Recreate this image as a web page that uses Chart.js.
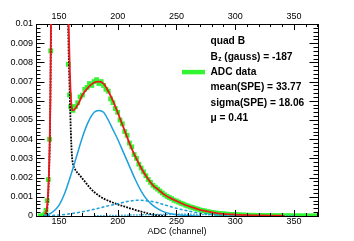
<!DOCTYPE html>
<html>
<head>
<meta charset="utf-8">
<script src="https://cdn.jsdelivr.net/npm/chart.js@4.4.1/dist/chart.umd.min.js"></script>
<style>
  html, body { margin: 0; padding: 0; background: #fff; }
</style>
</head>
<body>
<canvas id="myChart" width="354" height="241"></canvas>
<script>
// axis ticks
const xTicks = [150, 200, 250, 300, 350];
const yTickValues = [0, 0.001, 0.002, 0.003, 0.004, 0.005, 0.006, 0.007, 0.008, 0.009, 0.01];
const yTickLabels = ['0', '0.001', '0.002', '0.003', '0.004', '0.005', '0.006', '0.007', '0.008', '0.009', '0.01'];

// ADC data (normalised counts per channel)
const adcX = [134, 136, 137, 138, 139, 140, 141, 142, 143, 144, 146, 148, 150, 152, 154, 156, 157, 158, 159,
  160, 162, 164, 166, 168, 170, 172, 174, 176, 178, 180, 182, 184, 186, 188, 190, 192, 194, 196, 198,
  200, 202, 204, 206, 208, 210, 212, 214, 216, 218, 220, 222, 224, 226, 228, 230, 232, 234, 236, 238,
  240, 242, 244, 246, 248, 250, 252, 254, 256, 258, 260, 262, 264, 266, 268, 270, 272, 274, 276, 278,
  280, 282, 284, 286, 288, 290, 292, 294, 296, 298, 300, 302, 304, 306, 308, 310, 312, 314, 316, 318,
  320, 322, 324, 326, 328, 330, 332, 334, 336, 338, 340, 342, 344, 346, 348, 350, 352, 354, 356, 358,
  360, 362, 364, 366, 368, 370];
const adcY = [0, 0, 0.00003, 0.0001, 0.0003, 0.0008, 0.0019, 0.0040, 0.0086, 0.018, 0.035, 0.05, 0.055, 0.05, 0.04, 0.025, 0.016, 0.0079, 0.0063,
  0.0057, 0.0055, 0.0057, 0.0059, 0.0062, 0.0063, 0.0066, 0.0067, 0.0069, 0.0068, 0.0070, 0.0071, 0.0069, 0.0070, 0.0068, 0.0066, 0.0065, 0.0061, 0.0059, 0.0056,
  0.0054, 0.0050, 0.0048, 0.0044, 0.0042, 0.0038, 0.0036, 0.0032, 0.0030, 0.0027, 0.0025, 0.0023, 0.0021, 0.0019, 0.00175, 0.0016, 0.0015, 0.0014, 0.0013, 0.0012,
  0.0011, 0.00102, 0.00096, 0.0009, 0.00082, 0.00078, 0.00072, 0.00066, 0.00062, 0.00056, 0.00052, 0.00047, 0.00044, 0.00039, 0.00036, 0.00032, 0.00029, 0.00027, 0.00023, 0.00021,
  0.00019, 0.00017, 0.00015, 0.00014, 0.00012, 0.00011, 0.0001, 0.00009, 0.00008, 0.00008, 0.00007, 0.00006, 0.00006, 0.00005, 0.00005, 0.00004, 0.00004, 0.00003, 0.00004, 0.00003,
  0.00003, 0.00002, 0.00003, 0.00002, 0.00002, 0.00002, 0.00001, 0.00002, 0.00001, 0.00001, 0.00002, 0.00001, 0.00001, 0.00001, 0, 0.00001, 0, 0.00001, 0, 0,
  0.00001, 0, 0, 0, 0, 0];

// total fit
const fitX = [138, 139.5, 140.5, 141.3, 142, 142.7, 143.2, 143.8, 145, 150, 156, 157.2, 157.8, 158.6, 159.4, 160.2, 161, 162, 164, 167,
  170, 175, 180, 184, 188, 192, 196, 200, 205, 210, 215, 220, 225, 230, 235, 240, 245, 250, 255, 260,
  265, 270, 275, 280, 285, 290, 300, 310, 320, 330, 342];
const fitY = [0.0001, 0.0003, 0.0009, 0.0019, 0.0034, 0.006, 0.0098, 0.017, 0.03, 0.06, 0.03, 0.017, 0.0118, 0.0092, 0.0074, 0.0062, 0.0056, 0.0055, 0.0056, 0.0059,
  0.0063, 0.0067, 0.00695, 0.0070, 0.0069, 0.0065, 0.0060, 0.0054, 0.0046, 0.0038, 0.0031, 0.0025, 0.0020, 0.0016, 0.00135, 0.0011, 0.00093, 0.00078, 0.00064, 0.00052,
  0.00042, 0.00032, 0.00025, 0.00019, 0.00014, 0.00011, 0.00007, 0.00004, 0.00003, 0.00002, 0.00001];

// pedestal + tail
const pedX = [137, 138.5, 139.5, 140.5, 141.3, 142, 142.7, 143.2, 143.8, 145, 150, 156, 157.2, 157.8, 158.6, 159.4, 160.2, 161, 162, 164,
  168, 172, 176, 180, 185, 190, 195, 200, 206, 212, 220, 226, 232, 240];
const pedY = [0, 0.00005, 0.0002, 0.0007, 0.0017, 0.0032, 0.0058, 0.0094, 0.016, 0.03, 0.06, 0.03, 0.016, 0.0105, 0.0078, 0.006, 0.0043, 0.0032, 0.0027, 0.0024,
  0.0021, 0.0018, 0.0015, 0.00125, 0.00102, 0.00085, 0.00072, 0.0006, 0.00049, 0.00037, 0.00023, 0.00013, 0.00005, 0.00001];

// single photoelectron
const spe1X = [137, 140, 145, 150, 155, 160, 165, 170, 175, 180, 184, 188, 192, 196, 200, 205, 210, 215, 220, 225, 230, 235, 240, 245, 250, 260, 270];
const spe1Y = [0, 0.00005, 0.00022, 0.00055, 0.0012, 0.0021, 0.0031, 0.0041, 0.0049, 0.0054, 0.0055, 0.0054, 0.0050, 0.0045, 0.0040, 0.0033, 0.0026, 0.0019, 0.0013, 0.00085, 0.00055, 0.00034, 0.0002, 0.00012, 0.00007, 0.00002, 0];

// two photoelectrons
const spe2X = [140, 150, 160, 170, 180, 190, 200, 208, 216, 224, 232, 240, 250, 260, 270, 280, 290, 300, 315];
const spe2Y = [0.00001, 0.00005, 0.00012, 0.00022, 0.00035, 0.0005, 0.00064, 0.00075, 0.00082, 0.0008, 0.00072, 0.00058, 0.0004, 0.00026, 0.00015, 0.00008, 0.00004, 0.00002, 0.000005];

// three photoelectrons
const spe3X = [180, 200, 220, 240, 255, 270, 290, 310, 330, 350];
const spe3Y = [0.00001, 0.00003, 0.00006, 0.00008, 0.00009, 0.00008, 0.00005, 0.00003, 0.00001, 0];

const textLines = ['quad B', 'ADC data', 'mean(SPE) = 33.77', 'sigma(SPE) = 18.06', '\u03bc = 0.41'];

const FONT = '"Liberation Sans", Arial, Helvetica, sans-serif';
const GREEN = 'rgb(50,245,50)';
const BLUE = 'rgb(28,160,220)';

function toPoints(xs, ys) {
    return xs.map(function(x, i) { return { x: x, y: ys[i] }; });
}

// ROOT style: ticks pointing inwards and the text box
const rootStyle = {
    id: 'rootStyle',
    afterDraw(chart) {
        const ctx = chart.ctx;
        const a = chart.chartArea;
        const xs = chart.scales.x;
        const ys = chart.scales.y;
        ctx.save();
        ctx.strokeStyle = '#000';
        ctx.lineWidth = 1;
        ctx.beginPath();
        for (let v = 140; v <= 370; v += 10) {
            const px = Math.round(xs.getPixelForValue(v)) + 0.5;
            const len = v % 50 === 0 ? 6 : 3;
            ctx.moveTo(px, a.bottom); ctx.lineTo(px, a.bottom - len);
            ctx.moveTo(px, a.top); ctx.lineTo(px, a.top + len);
        }
        for (let i = 0; i <= 50; i++) {
            const py = Math.round(ys.getPixelForValue(i * 0.0002)) + 0.5;
            const len = i % 5 === 0 ? 8.5 : 4.5;
            ctx.moveTo(a.left, py); ctx.lineTo(a.left + len, py);
            ctx.moveTo(a.right, py); ctx.lineTo(a.right - len, py);
        }
        ctx.stroke();

        // text box
        const tx = 210.5;
        ctx.fillStyle = '#000';
        ctx.textBaseline = 'middle';
        ctx.textAlign = 'left';
        ctx.font = 'bold 10.2px ' + FONT;
        ctx.fillText(textLines[0], tx, 41.5);
        // B_z line
        ctx.fillText('B', tx, 56.8);
        let w = ctx.measureText('B').width;
        ctx.font = 'bold 6.5px ' + FONT;
        ctx.fillText('z', tx + w + 0.3, 59);
        let w2 = ctx.measureText('z').width;
        ctx.font = 'bold 10.2px ' + FONT;
        ctx.fillText(' (gauss) = -187', tx + w + w2 + 0.3, 56.8);
        ctx.fillText(textLines[1], tx, 72.1);
        ctx.fillText(textLines[2], tx, 87.4);
        ctx.fillText(textLines[3], tx, 102.7);
        ctx.fillText(textLines[4], tx, 118);
        // legend line for data
        ctx.strokeStyle = GREEN;
        ctx.lineWidth = 4.5;
        ctx.beginPath();
        ctx.moveTo(182, 72.1);
        ctx.lineTo(205, 72.1);
        ctx.stroke();
        ctx.restore();
    }
};

const tickFont = { family: FONT, size: 9 };

const ctx = document.getElementById('myChart').getContext('2d');
const myChart = new Chart(ctx, {
    type: 'scatter',
    data: {
        datasets: [
            {
                label: 'fit',
                data: toPoints(fitX, fitY),
                showLine: true,
                pointRadius: 0,
                borderColor: 'rgb(235,25,25)',
                borderWidth: 1.8,
                cubicInterpolationMode: 'monotone',
                order: 1
            },
            {
                label: '1 p.e.',
                data: toPoints(spe1X, spe1Y),
                showLine: true,
                pointRadius: 0,
                borderColor: BLUE,
                borderWidth: 1.5,
                cubicInterpolationMode: 'monotone',
                order: 2
            },
            {
                label: '2 p.e.',
                data: toPoints(spe2X, spe2Y),
                showLine: true,
                pointRadius: 0,
                borderColor: BLUE,
                borderWidth: 1.5,
                borderDash: [3, 2],
                cubicInterpolationMode: 'monotone',
                order: 3
            },
            {
                label: '3 p.e.',
                data: toPoints(spe3X, spe3Y),
                showLine: true,
                pointRadius: 0,
                borderColor: BLUE,
                borderWidth: 1.5,
                borderDash: [1.5, 1.5],
                cubicInterpolationMode: 'monotone',
                order: 4
            },
            {
                label: 'pedestal',
                data: toPoints(pedX, pedY),
                showLine: true,
                pointRadius: 0,
                borderColor: '#000',
                borderWidth: 1.8,
                borderDash: [1.8, 1.2],
                cubicInterpolationMode: 'monotone',
                order: 5
            },
            {
                label: 'ADC data',
                data: toPoints(adcX, adcY),
                pointStyle: 'rect',
                pointRadius: 3.4,
                pointBorderWidth: 0,
                pointBackgroundColor: GREEN,
                pointBorderColor: GREEN,
                order: 6
            }
        ]
    },
    options: {
        responsive: false,
        animation: false,
        devicePixelRatio: 1,
        layout: { padding: 0, autoPadding: false },
        plugins: { legend: { display: false }, tooltip: { enabled: false } },
        scales: {
            x: {
                type: 'linear',
                position: 'bottom',
                min: 130.5,
                max: 370.5,
                afterBuildTicks: function(s) { s.ticks = xTicks.map(function(v) { return { value: v }; }); },
                ticks: { font: tickFont, color: '#000', padding: 0.6, maxRotation: 0, autoSkip: false },
                grid: { display: false, drawTicks: false },
                border: { display: true, color: '#000', width: 1 },
                title: { display: true, text: 'ADC (channel)', font: tickFont, color: '#000', padding: { top: 0, bottom: 3.6 } },
                afterFit: function(s) { s.height = 25; }
            },
            x2: {
                type: 'linear',
                position: 'top',
                min: 130.5,
                max: 370.5,
                afterBuildTicks: function(s) { s.ticks = xTicks.map(function(v) { return { value: v }; }); },
                ticks: { font: tickFont, color: '#000', padding: 1.6, maxRotation: 0, autoSkip: false },
                grid: { display: false, drawTicks: false },
                border: { display: true, color: '#000', width: 1 },
                afterFit: function(s) { s.height = 24; }
            },
            y: {
                type: 'linear',
                position: 'left',
                min: 0,
                max: 0.01,
                afterBuildTicks: function(s) { s.ticks = yTickValues.map(function(v) { return { value: v }; }); },
                ticks: {
                    font: tickFont, color: '#000', padding: 3, autoSkip: false,
                    callback: function(v, i) { return yTickLabels[i]; }
                },
                grid: { display: false, drawTicks: false },
                border: { display: true, color: '#000', width: 1 },
                afterFit: function(s) { s.width = 36; }
            },
            y2: {
                type: 'linear',
                position: 'right',
                min: 0,
                max: 0.01,
                ticks: { display: false },
                grid: { display: false, drawTicks: false },
                border: { display: true, color: '#000', width: 1 },
                afterFit: function(s) { s.width = 36; }
            }
        }
    },
    plugins: [rootStyle]
});
</script>
</body>
</html>
